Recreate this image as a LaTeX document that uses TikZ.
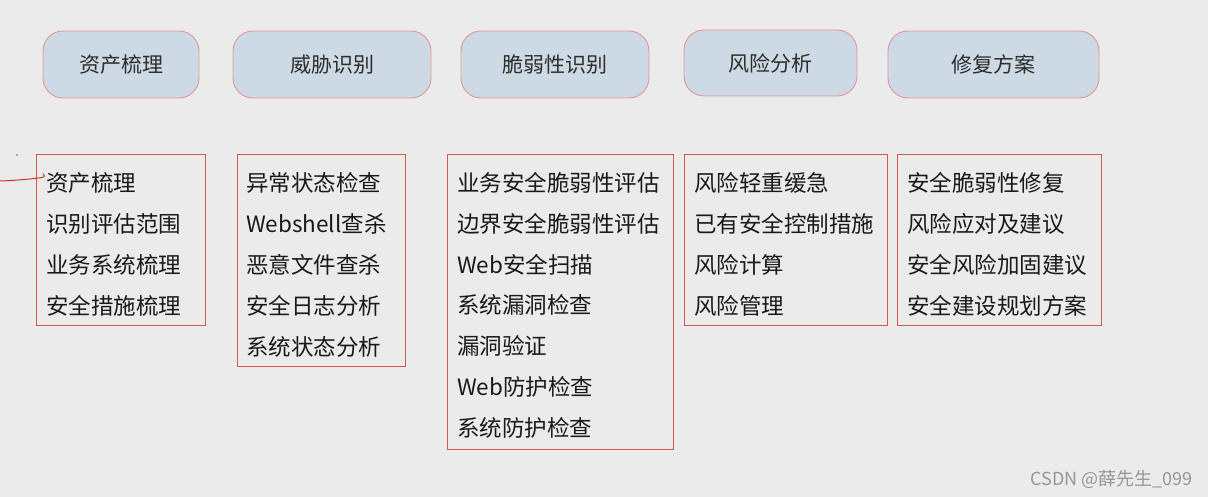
\documentclass[tikz,border=0pt]{standalone}
\usepackage{fontspec}
\setmainfont{Noto Sans CJK SC}
\definecolor{bg}{RGB}{235,235,235}
\definecolor{topfill}{RGB}{205,217,229}
\definecolor{topline}{RGB}{226,150,150}
\definecolor{boxline}{RGB}{214,88,80}
\definecolor{toptext}{RGB}{45,45,45}
\definecolor{listtext}{RGB}{25,25,25}
\definecolor{penred}{RGB}{205,50,45}
\definecolor{wm}{RGB}{150,150,150}
\tikzset{
  topbox/.style={draw=topline, line width=0.9pt, fill=topfill, rounded corners=20pt,
    minimum height=67pt, inner sep=0pt, text=toptext, font=\fontsize{21}{21}\selectfont},
  listbox/.style={draw=boxline, line width=1.2pt, anchor=north west, inner sep=0pt},
  item/.style={anchor=base west, inner sep=0pt, text=listtext, font=\fontsize{22.5}{22.5}\selectfont},
}
\begin{document}
\begin{tikzpicture}[x=1pt,y=-1pt]
\fill[bg] (0,0) rectangle (1208,497);
\useasboundingbox (0,0) rectangle (1208,497);

% top row
\node[topbox, minimum width=156pt] (t1) at (121,64.5) {资产梳理};
\node[topbox, minimum width=198pt] (t2) at (332,64.5) {威胁识别};
\node[topbox, minimum width=188pt] (t3) at (555,64.5) {脆弱性识别};
\node[topbox, minimum width=173pt, minimum height=66pt] (t4) at (770.5,63) {风险分析};
\node[topbox, minimum width=211pt] (t5) at (993.5,64.5) {修复方案};

% list boxes
\node[listbox, minimum width=169pt, minimum height=171pt] (b1) at (36,154) {};
\node[listbox, minimum width=168pt, minimum height=212pt] (b2) at (237,154) {};
\node[listbox, minimum width=226pt, minimum height=295pt] (b3) at (447,154) {};
\node[listbox, minimum width=203pt, minimum height=171pt] (b4) at (684,154) {};
\node[listbox, minimum width=204pt, minimum height=171pt] (b5) at (897,154) {};

% list texts
\foreach \t [count=\i, evaluate=\i as \y using 191.5+41*(\i-1)] in {资产梳理,识别评估范围,业务系统梳理,安全措施梳理}
  \node[item] (l1-\i) at (46,\y) {\t};
\foreach \t [count=\i, evaluate=\i as \y using 191.5+41*(\i-1)] in {异常状态检查,Webshell查杀,恶意文件查杀,安全日志分析,系统状态分析}
  \node[item] (l2-\i) at (246,\y) {\t};
\foreach \t [count=\i, evaluate=\i as \y using 191.5+40.8*(\i-1)] in {业务安全脆弱性评估,边界安全脆弱性评估,Web安全扫描,系统漏洞检查,漏洞验证,Web防护检查,系统防护检查}
  \node[item] (l3-\i) at (457,\y) {\t};
\foreach \t [count=\i, evaluate=\i as \y using 191.5+41*(\i-1)] in {风险轻重缓急,已有安全控制措施,风险计算,风险管理}
  \node[item] (l4-\i) at (694,\y) {\t};
\foreach \t [count=\i, evaluate=\i as \y using 191.5+41*(\i-1)] in {安全脆弱性修复,风险应对及建议,安全风险加固建议,安全建设规划方案}
  \node[item] (l5-\i) at (907,\y) {\t};

% hand-drawn red marks
\draw[draw=penred, line width=1pt, line cap=round] (0,181) .. controls (15,180.5) and (32,179) .. (42,177.5)
  .. controls (45,177) and (45,175) .. (43,174);
\fill[fill=penred] (17,155) circle (0.9pt);

% watermark
\node[anchor=east, inner sep=0pt, text=wm, font=\fontsize{18}{18}\selectfont] (wmk) at (1193,479) {CSDN @薛先生\_099};
\end{tikzpicture}
\end{document}
